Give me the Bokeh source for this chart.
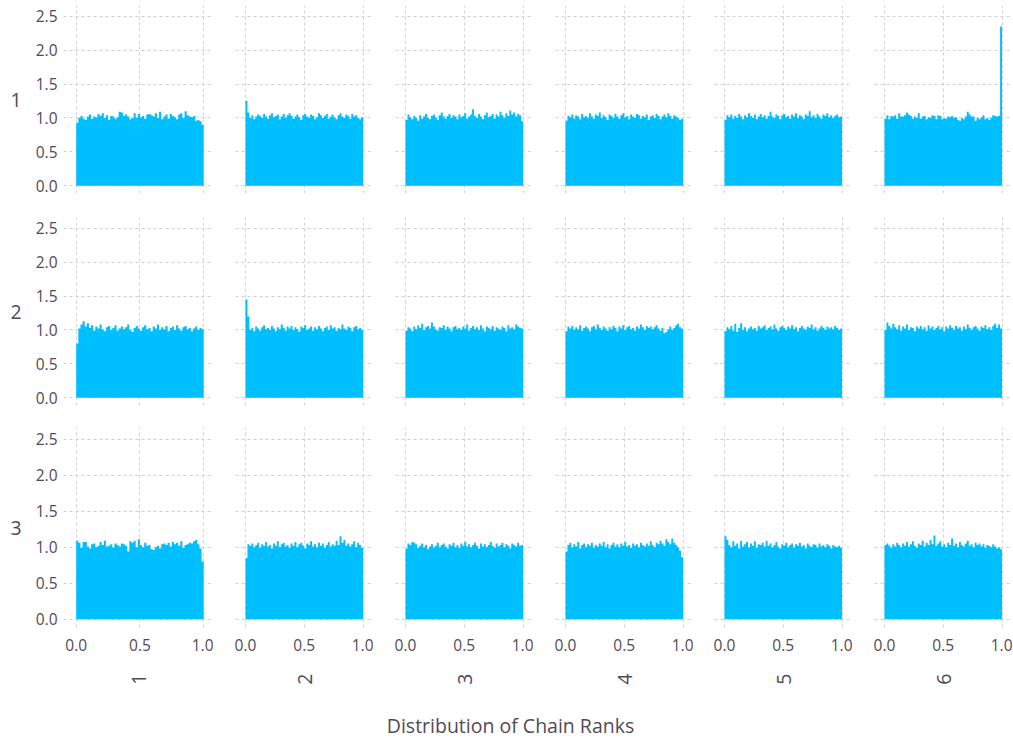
import math
import numpy as np
from bokeh.plotting import figure
from bokeh.layouts import gridplot, column
from bokeh.models import Range1d, FixedTicker, PrintfTickFormatter, Label, ColumnDataSource
from bokeh.embed import file_html
from bokeh.resources import INLINE

# ---------------- data ----------------
row_labels = ["1", "2", "3"]
col_labels = ["1", "2", "3", "4", "5", "6"]
x_ticks = [0.0, 0.5, 1.0]
y_ticks = [0.0, 0.5, 1.0, 1.5, 2.0, 2.5]
x_title = "Distribution of Chain Ranks"

r1c1 = [0.93, 1.00, 1.03, 0.99, 0.97, 1.02, 1.05, 0.99, 1.02, 1.01, 1.06, 1.03, 1.07, 1.00, 1.04,
        0.97, 1.03, 1.02, 0.99, 1.01, 1.09, 1.08, 1.03, 1.05, 1.02, 0.98, 1.00, 1.07, 1.00, 1.06,
        1.01, 1.03, 0.99, 1.05, 1.06, 1.04, 1.02, 1.07, 1.00, 1.09, 0.98, 1.02, 1.05, 0.99, 1.06,
        1.03, 1.01, 0.98, 1.05, 1.07, 1.00, 1.10, 1.04, 1.02, 1.01, 1.03, 0.96, 0.97, 0.95, 0.90]
r1c2 = [1.25, 1.08, 1.00, 1.04, 0.98, 1.02, 1.05, 1.03, 1.00, 1.06, 1.02, 0.99, 1.04, 1.07, 1.01,
        1.03, 1.05, 0.98, 1.02, 1.06, 1.00, 1.04, 1.07, 1.03, 0.99, 1.02, 1.05, 1.01, 0.97, 1.04,
        1.06, 1.02, 1.00, 1.05, 1.03, 0.98, 1.01, 1.07, 1.04, 1.00, 1.03, 1.06, 0.99, 1.02, 1.05,
        1.01, 0.98, 1.04, 1.07, 1.02, 1.00, 1.05, 1.03, 0.99, 1.06, 1.02, 1.04, 1.00, 0.98, 1.01]
r1c3 = [0.97, 1.05, 1.01, 0.98, 1.03, 1.00, 0.96, 1.04, 0.99, 1.02, 1.06, 1.00, 0.98, 1.03, 1.05,
        1.01, 0.97, 1.04, 1.08, 1.02, 0.99, 1.03, 1.06, 1.00, 1.04, 1.02, 0.98, 1.05, 1.01, 1.03,
        1.07, 0.99, 1.02, 1.05, 1.13, 1.03, 1.00, 1.06, 1.02, 0.98, 1.04, 1.08, 1.01, 1.03, 1.06,
        0.99, 1.05, 1.02, 1.09, 1.04, 1.00, 1.07, 1.03, 1.11, 1.05, 1.08, 1.02, 1.06, 1.04, 0.95]
r1c4 = [0.96, 1.03, 1.01, 1.05, 0.99, 1.04, 1.02, 0.98, 1.06, 1.01, 1.03, 1.00, 1.07, 1.02, 0.99,
        1.05, 1.03, 1.08, 1.00, 1.04, 1.01, 0.97, 1.05, 1.03, 1.00, 1.06, 1.02, 0.99, 1.04, 1.07,
        1.01, 1.03, 0.98, 1.05, 1.02, 1.00, 1.06, 1.04, 0.99, 1.03, 1.01, 1.05, 0.97, 1.02, 1.04,
        1.00, 1.06, 1.03, 0.98, 1.02, 1.05, 1.01, 1.07, 1.03, 0.99, 1.04, 1.02, 1.00, 0.97, 0.99]
r1c5 = [0.97, 1.04, 1.01, 1.05, 0.99, 1.03, 1.00, 1.06, 1.02, 0.98, 1.04, 1.01, 1.07, 1.03, 1.00,
        1.05, 0.98, 1.02, 1.06, 1.01, 1.04, 0.99, 1.03, 1.09, 1.02, 1.00, 1.05, 1.03, 0.98, 1.04,
        1.06, 1.01, 1.03, 0.99, 1.05, 1.02, 1.07, 1.00, 1.04, 1.02, 0.98, 1.05, 1.03, 1.10, 1.01,
        1.04, 1.00, 1.06, 1.02, 0.99, 1.05, 1.03, 1.07, 1.01, 1.04, 1.00, 1.03, 1.05, 1.01, 1.02]
r1c6 = [0.99, 1.04, 0.98, 1.03, 1.02, 1.04, 0.99, 1.07, 1.02, 1.02, 1.04, 1.08, 1.05, 1.03, 0.99,
        1.02, 1.00, 1.07, 0.99, 1.02, 1.03, 0.98, 1.01, 1.00, 1.04, 1.03, 0.98, 1.04, 1.03, 0.98,
        1.00, 0.99, 1.02, 1.01, 1.03, 1.00, 1.01, 0.97, 0.96, 1.00, 0.98, 1.02, 1.09, 1.05, 1.02,
        1.02, 0.96, 1.00, 0.98, 1.01, 1.04, 0.98, 1.00, 0.97, 1.00, 1.04, 1.03, 1.02, 1.03, 2.35]
r2c1 = [0.80, 1.02, 1.08, 1.13, 1.05, 1.10, 1.03, 1.07, 0.99, 1.05, 1.02, 1.08, 1.01, 0.98, 1.04,
        1.06, 1.00, 1.03, 1.07, 0.99, 1.02, 1.05, 1.01, 1.04, 1.08, 1.00, 0.97, 1.03, 1.06, 1.02,
        0.99, 1.04, 1.07, 1.01, 1.03, 0.98, 1.05, 1.02, 1.08, 1.00, 1.04, 1.01, 1.06, 0.98, 1.03,
        1.05, 1.00, 1.07, 1.02, 0.99, 1.04, 1.06, 1.01, 1.03, 0.98, 1.02, 1.05, 1.00, 1.03, 1.01]
r2c2 = [1.45, 1.20, 1.00, 1.03, 0.98, 1.05, 1.02, 0.99, 1.04, 1.07, 1.01, 1.03, 1.00, 1.06, 1.02,
        0.98, 1.04, 1.01, 1.08, 1.03, 0.99, 1.05, 1.02, 1.06, 1.00, 1.04, 1.01, 0.97, 1.05, 1.03,
        1.07, 1.00, 1.02, 1.05, 0.99, 1.04, 1.01, 1.06, 1.02, 0.98, 1.03, 1.05, 1.00, 1.07, 1.02,
        1.04, 0.99, 1.03, 1.01, 1.08, 1.02, 1.00, 1.05, 1.03, 0.98, 1.04, 1.06, 1.01, 1.03, 1.00]
r2c3 = [0.99, 1.04, 1.02, 0.98, 1.05, 1.01, 1.07, 1.03, 1.09, 1.00, 1.04, 1.06, 1.02, 1.11, 1.05,
        1.01, 0.99, 1.04, 1.03, 1.07, 1.00, 1.05, 1.02, 0.98, 1.04, 1.06, 1.01, 1.03, 1.00, 1.05,
        1.02, 1.08, 0.99, 1.03, 1.06, 1.01, 1.04, 1.00, 1.07, 1.02, 0.98, 1.05, 1.03, 1.01, 1.06,
        0.99, 1.04, 1.02, 1.00, 1.05, 1.03, 0.98, 1.07, 1.02, 1.04, 1.01, 1.08, 1.05, 1.03, 1.02]
r2c4 = [0.98, 1.05, 1.02, 1.06, 1.00, 1.04, 1.01, 1.07, 0.99, 1.03, 1.05, 1.02, 0.98, 1.04, 1.06,
        1.01, 1.08, 1.03, 1.00, 1.05, 1.02, 0.99, 1.04, 1.01, 1.06, 1.03, 0.98, 1.05, 1.02, 1.07,
        1.00, 1.04, 1.06, 1.01, 1.03, 0.99, 1.05, 1.02, 1.08, 1.04, 1.00, 1.06, 1.03, 1.05, 1.01,
        1.04, 1.07, 1.02, 0.99, 1.03, 0.95, 0.97, 1.01, 1.05, 1.00, 1.03, 1.07, 1.09, 1.04, 1.02]
r2c5 = [0.98, 1.04, 1.01, 1.06, 0.99, 1.09, 0.97, 1.03, 1.10, 1.00, 1.04, 0.98, 1.02, 1.05, 1.01,
        1.03, 0.99, 1.06, 1.02, 1.04, 1.07, 1.00, 1.03, 1.05, 1.01, 1.08, 1.02, 0.99, 1.04, 1.06,
        1.03, 1.00, 1.05, 1.02, 1.07, 1.01, 1.04, 0.98, 1.03, 1.06, 1.02, 1.00, 1.05, 1.03, 1.08,
        1.01, 1.04, 0.99, 1.02, 1.06, 1.03, 1.00, 1.05, 1.02, 1.04, 1.01, 1.06, 1.03, 1.00, 1.02]
r2c6 = [1.00, 1.11, 1.06, 1.02, 1.09, 1.04, 1.01, 1.07, 0.99, 1.05, 1.02, 1.08, 1.00, 1.04, 1.03,
        0.98, 1.05, 1.02, 1.06, 1.01, 1.04, 0.99, 1.07, 1.02, 1.05, 1.00, 1.03, 1.06, 1.01, 1.04,
        0.98, 1.05, 1.02, 1.07, 1.03, 1.00, 1.06, 1.02, 1.04, 0.99, 1.05, 1.01, 1.08, 1.03, 1.00,
        1.04, 1.06, 1.02, 0.99, 1.05, 1.03, 1.07, 1.01, 1.04, 1.00, 1.06, 1.09, 1.03, 1.08, 1.02]
r3c1 = [1.09, 1.06, 0.99, 1.07, 1.07, 1.01, 0.98, 1.04, 1.05, 1.00, 1.02, 1.07, 1.03, 1.09, 1.01,
        1.02, 1.04, 0.99, 1.05, 1.03, 1.01, 1.05, 1.04, 1.02, 0.94, 1.08, 1.06, 1.09, 1.00, 1.11,
        1.03, 1.00, 1.06, 1.02, 1.03, 0.97, 0.96, 1.00, 1.02, 0.98, 1.04, 1.05, 1.03, 1.06, 1.01,
        1.07, 1.04, 1.06, 1.02, 1.08, 0.99, 1.03, 1.04, 1.06, 1.05, 1.08, 1.10, 1.04, 0.98, 0.80]
r3c2 = [0.85, 1.04, 1.02, 1.05, 1.00, 1.03, 1.06, 0.99, 1.04, 1.02, 1.07, 1.01, 1.03, 0.98, 1.05,
        1.02, 1.08, 1.00, 1.04, 1.06, 1.01, 1.03, 0.99, 1.05, 1.02, 1.07, 1.00, 1.04, 1.06, 1.02,
        0.98, 1.05, 1.03, 1.08, 1.01, 1.04, 1.00, 1.06, 1.02, 1.05, 0.99, 1.03, 1.07, 1.01, 1.04,
        1.02, 1.09, 1.03, 1.15, 1.06, 1.10, 1.02, 1.05, 1.01, 1.04, 1.08, 1.00, 1.06, 1.03, 0.99]
r3c3 = [0.98, 1.05, 1.03, 1.07, 1.06, 1.04, 0.99, 1.02, 1.05, 1.00, 1.03, 0.97, 1.01, 1.04, 0.99,
        1.02, 1.06, 1.00, 1.03, 1.05, 1.01, 0.98, 1.04, 1.02, 1.06, 1.00, 1.03, 0.99, 1.05, 1.02,
        1.07, 1.01, 1.04, 1.00, 1.03, 1.06, 1.02, 0.98, 1.05, 1.01, 1.04, 1.00, 1.03, 1.07, 1.02,
        0.99, 1.05, 1.01, 1.03, 1.06, 1.00, 1.04, 1.02, 0.98, 1.05, 1.03, 1.01, 1.06, 1.02, 1.03]
r3c4 = [0.94, 1.03, 1.06, 1.00, 1.04, 1.01, 1.07, 0.98, 1.03, 1.05, 1.00, 1.04, 1.02, 1.06, 0.99,
        1.03, 1.01, 1.05, 1.02, 1.07, 1.00, 1.04, 0.98, 1.03, 1.06, 1.01, 1.04, 1.00, 1.05, 1.02,
        1.07, 1.01, 1.03, 0.99, 1.05, 1.02, 1.04, 1.00, 1.06, 1.03, 1.01, 1.05, 1.02, 1.08, 1.03,
        1.00, 1.06, 1.04, 1.09, 1.05, 1.02, 1.11, 1.07, 1.04, 1.12, 1.06, 1.03, 1.00, 0.95, 0.86]
r3c5 = [1.15, 1.10, 1.03, 1.00, 1.08, 1.02, 1.05, 0.98, 1.09, 1.01, 1.04, 1.07, 1.00, 1.05, 1.02,
        1.08, 0.99, 1.04, 1.03, 1.06, 1.01, 1.09, 1.02, 1.05, 1.00, 1.03, 1.07, 1.01, 0.98, 1.04,
        1.02, 1.06, 1.00, 1.03, 1.05, 0.99, 1.04, 1.02, 1.06, 1.01, 1.03, 0.98, 1.05, 1.02, 1.00,
        1.04, 1.03, 0.99, 1.05, 1.01, 1.03, 1.00, 1.04, 1.02, 0.98, 1.03, 1.01, 1.00, 1.02, 0.99]
r3c6 = [1.03, 1.05, 1.02, 0.99, 1.04, 1.01, 1.06, 1.03, 1.00, 1.05, 1.02, 1.07, 1.01, 1.04, 1.08,
        1.02, 0.99, 1.05, 1.03, 1.09, 1.01, 1.06, 1.03, 1.10, 1.04, 1.16, 1.02, 1.05, 1.08, 1.01,
        1.04, 1.00, 1.06, 1.03, 1.12, 1.02, 1.05, 1.00, 1.07, 1.03, 1.01, 1.05, 1.09, 1.02, 1.04,
        1.00, 1.06, 1.03, 1.05, 1.01, 1.04, 0.99, 1.03, 1.02, 1.00, 1.04, 1.01, 0.98, 1.00, 0.97]

panels = [
    [r1c1, r1c2, r1c3, r1c4, r1c5, r1c6],
    [r2c1, r2c2, r2c3, r2c4, r2c5, r2c6],
    [r3c1, r3c2, r3c3, r3c4, r3c5, r3c6],
]

# ---------------- style / layout ----------------
FONT = "Open Sans"
TXT = "#524a58"
GRID = "#cfcfdd"
BAR = "#00bfff"

frame_w = [150, 138, 138, 138, 138, 138]
left_b = [63, 22, 22, 22, 21, 22]
x_lo = [-0.0996, -0.085, -0.085, -0.085, -0.085, -0.085]
x_hi = [1.077, 1.089, 1.089, 1.089, 1.089, 1.089]
frame_h = [188, 188, 200]
top_b = [5, 12, 11]
bottom_b = [12, 11, 76]
Y_LO, Y_HI = -0.115, 2.66

rows = []
for r in range(3):
    row = []
    for c in range(6):
        vals = list(panels[r][c])
        edges = np.linspace(0.0, 1.0, len(vals) + 1)
        src = ColumnDataSource(dict(x=edges, y1=np.zeros(len(edges)), y2=vals + vals[-1:]))
        p = figure(width=left_b[c] + frame_w[c], height=top_b[r] + frame_h[r] + bottom_b[r],
                   x_range=Range1d(x_lo[c], x_hi[c]), y_range=Range1d(Y_LO, Y_HI),
                   output_backend="svg", toolbar_location=None,
                   min_border_left=left_b[c], min_border_right=0,
                   min_border_top=top_b[r], min_border_bottom=bottom_b[r])
        p.outline_line_color = None
        p.background_fill_color = "white"
        p.border_fill_color = "white"
        p.varea_step(x="x", y1="y1", y2="y2", step_mode="after", source=src, fill_color=BAR)
        for g in (p.xgrid, p.ygrid):
            g.grid_line_color = GRID
            g.grid_line_dash = "3 3"
            g.grid_line_width = 1
        p.xgrid.ticker = FixedTicker(ticks=x_ticks)
        p.ygrid.ticker = FixedTicker(ticks=y_ticks)

        xa = p.xaxis[0]
        ya = p.yaxis[0]
        for ax in (xa, ya):
            ax.axis_line_color = None
            ax.major_tick_line_color = None
            ax.minor_tick_line_color = None
            ax.major_tick_in = 0
            ax.major_tick_out = 0
            ax.major_label_text_font = FONT
            ax.major_label_text_font_size = "15.5px"
            ax.major_label_text_color = TXT
            ax.axis_label_text_font = FONT
            ax.axis_label_text_font_size = "19.5px"
            ax.axis_label_text_font_style = "normal"
            ax.axis_label_text_color = TXT
            ax.formatter = PrintfTickFormatter(format="%.1f")
        xa.ticker = FixedTicker(ticks=x_ticks)
        ya.ticker = FixedTicker(ticks=y_ticks)

        if r == 2:
            xa.major_label_standoff = 11
            xa.axis_label = col_labels[c]
            xa.axis_label_orientation = math.pi / 2
            xa.axis_label_standoff = 20
        else:
            xa.visible = False
        if c == 0:
            ya.major_label_standoff = 6
            ya.axis_label = row_labels[r]
            ya.axis_label_orientation = "horizontal"
            ya.axis_label_standoff = 11
        else:
            ya.visible = False
        row.append(p)
    rows.append(row)

grid = gridplot(rows, toolbar_location=None)

total_w = sum(left_b) + sum(frame_w)
TH = 36
tp = figure(width=total_w, height=TH, x_range=Range1d(0, total_w), y_range=Range1d(0, TH),
            output_backend="svg", toolbar_location=None,
            min_border_left=0, min_border_right=0, min_border_top=0, min_border_bottom=0)
tp.axis.visible = False
tp.grid.visible = False
tp.outline_line_color = None
tp.add_layout(Label(x=510, y=14, text=x_title, text_font=FONT, text_font_size="19.5px",
                    text_color=TXT, text_align="center", text_baseline="middle"))

layout = column(grid, tp)
open("out.html", "w").write(file_html(layout, INLINE))
